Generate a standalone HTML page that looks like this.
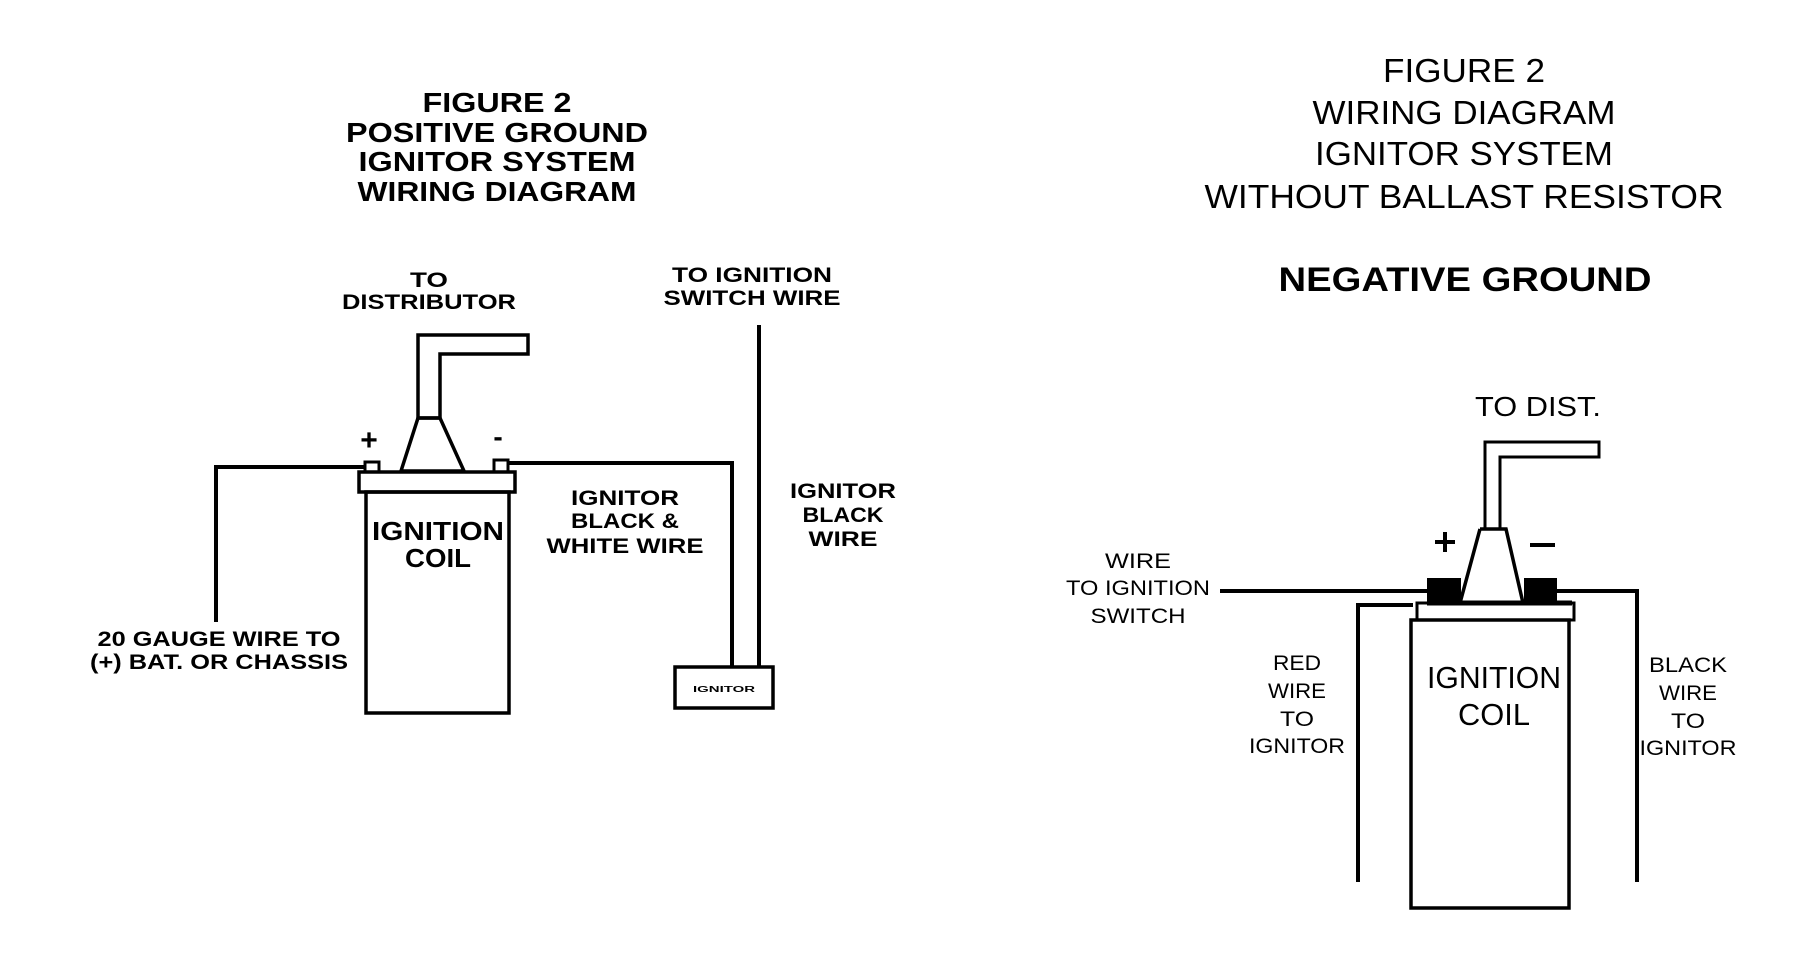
<!DOCTYPE html>
<html><head><meta charset="utf-8"><style>
html,body{margin:0;padding:0;background:#fff;}
svg{display:block;}
text{font-family:"Liberation Sans",Arial,sans-serif;fill:#000;}
</style></head><body>
<svg width="1800" height="966" viewBox="0 0 1800 966" xmlns="http://www.w3.org/2000/svg">
<rect width="1800" height="966" fill="#fff"/>
<!-- LEFT FIGURE -->
<g text-anchor="middle" font-weight="bold">
<text x="497" y="112" font-size="28" textLength="149" lengthAdjust="spacingAndGlyphs">FIGURE 2</text>
<text x="497" y="142" font-size="28" textLength="302" lengthAdjust="spacingAndGlyphs">POSITIVE GROUND</text>
<text x="497" y="171" font-size="28" textLength="277" lengthAdjust="spacingAndGlyphs">IGNITOR SYSTEM</text>
<text x="497" y="201" font-size="28" textLength="279" lengthAdjust="spacingAndGlyphs">WIRING DIAGRAM</text>
<text x="429" y="287" font-size="21" textLength="38" lengthAdjust="spacingAndGlyphs">TO</text>
<text x="429" y="309" font-size="21" textLength="174" lengthAdjust="spacingAndGlyphs">DISTRIBUTOR</text>
<text x="752" y="282" font-size="21" textLength="160" lengthAdjust="spacingAndGlyphs">TO IGNITION</text>
<text x="752" y="305" font-size="21" textLength="177" lengthAdjust="spacingAndGlyphs">SWITCH WIRE</text>
<text x="438" y="540" font-size="26" textLength="132" lengthAdjust="spacingAndGlyphs">IGNITION</text>
<text x="438" y="567" font-size="26" textLength="66" lengthAdjust="spacingAndGlyphs">COIL</text>
<text x="625" y="505" font-size="21" textLength="108" lengthAdjust="spacingAndGlyphs">IGNITOR</text>
<text x="625" y="528" font-size="21" textLength="108" lengthAdjust="spacingAndGlyphs">BLACK &amp;</text>
<text x="625" y="553" font-size="21" textLength="157" lengthAdjust="spacingAndGlyphs">WHITE WIRE</text>
<text x="843" y="498" font-size="21" textLength="106" lengthAdjust="spacingAndGlyphs">IGNITOR</text>
<text x="843" y="522" font-size="21" textLength="81" lengthAdjust="spacingAndGlyphs">BLACK</text>
<text x="843" y="546" font-size="21" textLength="69" lengthAdjust="spacingAndGlyphs">WIRE</text>
<text x="219" y="646" font-size="21" textLength="243" lengthAdjust="spacingAndGlyphs">20 GAUGE WIRE TO</text>
<text x="219" y="669" font-size="21" textLength="258" lengthAdjust="spacingAndGlyphs">(+) BAT. OR CHASSIS</text>
<text x="724" y="692" font-size="8" textLength="62" lengthAdjust="spacingAndGlyphs">IGNITOR</text>
<text x="369" y="450" font-size="30">+</text>
<text x="498" y="446" font-size="28">-</text>
</g>
<g fill="none" stroke="#000" stroke-width="4" stroke-linejoin="miter">
<path d="M418 418 V335 H528 V354 H440 V418 Z" stroke-width="3.5"/>
<path d="M418 418 H440 L464 471 H401 Z" stroke-width="3.5"/>
<rect x="359" y="472" width="156" height="20" stroke-width="3.5"/>
<rect x="366" y="492" width="143" height="221" stroke-width="3.5"/>
<rect x="365" y="462" width="14" height="10" stroke-width="3"/>
<rect x="494" y="460" width="14" height="12" stroke-width="3"/>
<path d="M365 467 H216 V622"/>
<path d="M508 463 H732 V667"/>
<path d="M759 325 V667"/>
<rect x="675" y="667" width="98" height="41" stroke-width="3.5"/>
</g>
<!-- RIGHT FIGURE -->
<g text-anchor="middle">
<text x="1464" y="82" font-size="33" textLength="162" lengthAdjust="spacingAndGlyphs">FIGURE 2</text>
<text x="1464" y="124" font-size="33" textLength="303" lengthAdjust="spacingAndGlyphs">WIRING DIAGRAM</text>
<text x="1464" y="165" font-size="33" textLength="298" lengthAdjust="spacingAndGlyphs">IGNITOR SYSTEM</text>
<text x="1464" y="208" font-size="33" textLength="519" lengthAdjust="spacingAndGlyphs">WITHOUT BALLAST RESISTOR</text>
<text x="1465" y="291" font-size="34" font-weight="bold" textLength="373" lengthAdjust="spacingAndGlyphs">NEGATIVE GROUND</text>
<text x="1538" y="416" font-size="28" textLength="126" lengthAdjust="spacingAndGlyphs">TO DIST.</text>
<text x="1138" y="568" font-size="21" textLength="66" lengthAdjust="spacingAndGlyphs">WIRE</text>
<text x="1138" y="595" font-size="21" textLength="144" lengthAdjust="spacingAndGlyphs">TO IGNITION</text>
<text x="1138" y="623" font-size="21" textLength="95" lengthAdjust="spacingAndGlyphs">SWITCH</text>
<text x="1297" y="670" font-size="21" textLength="48" lengthAdjust="spacingAndGlyphs">RED</text>
<text x="1297" y="698" font-size="21" textLength="58" lengthAdjust="spacingAndGlyphs">WIRE</text>
<text x="1297" y="726" font-size="21" textLength="34" lengthAdjust="spacingAndGlyphs">TO</text>
<text x="1297" y="753" font-size="21" textLength="96" lengthAdjust="spacingAndGlyphs">IGNITOR</text>
<text x="1688" y="672" font-size="21" textLength="78" lengthAdjust="spacingAndGlyphs">BLACK</text>
<text x="1688" y="700" font-size="21" textLength="58" lengthAdjust="spacingAndGlyphs">WIRE</text>
<text x="1688" y="728" font-size="21" textLength="34" lengthAdjust="spacingAndGlyphs">TO</text>
<text x="1688" y="755" font-size="21" textLength="97" lengthAdjust="spacingAndGlyphs">IGNITOR</text>
<text x="1494" y="688" font-size="31" textLength="134" lengthAdjust="spacingAndGlyphs">IGNITION</text>
<text x="1494" y="725" font-size="31" textLength="72" lengthAdjust="spacingAndGlyphs">COIL</text>
</g>
<g fill="none" stroke="#000" stroke-width="4">
<path d="M1485 529 V442 H1599 V457 H1500 V529" stroke-width="3"/>
<path d="M1480 529 H1506 L1523 603 M1480 529 L1460 603" stroke-width="3.5"/>
<path d="M1427 603 H1572" stroke-width="5"/>
<rect x="1417" y="603" width="157" height="17" stroke-width="3"/>
<rect x="1411" y="620" width="158" height="288" stroke-width="3.5"/>
<path d="M1220 591 H1430"/>
<path d="M1413 605 H1358 V882"/>
<path d="M1555 591 H1637 V882"/>
</g>
<rect x="1427" y="578" width="34" height="25" fill="#000"/>
<rect x="1524" y="578" width="33" height="25" fill="#000"/>
<rect x="1435" y="540" width="20" height="4" fill="#000"/>
<rect x="1443" y="532" width="4" height="20" fill="#000"/>
<rect x="1530" y="543" width="25" height="4" fill="#000"/>
</svg>
</body></html>
